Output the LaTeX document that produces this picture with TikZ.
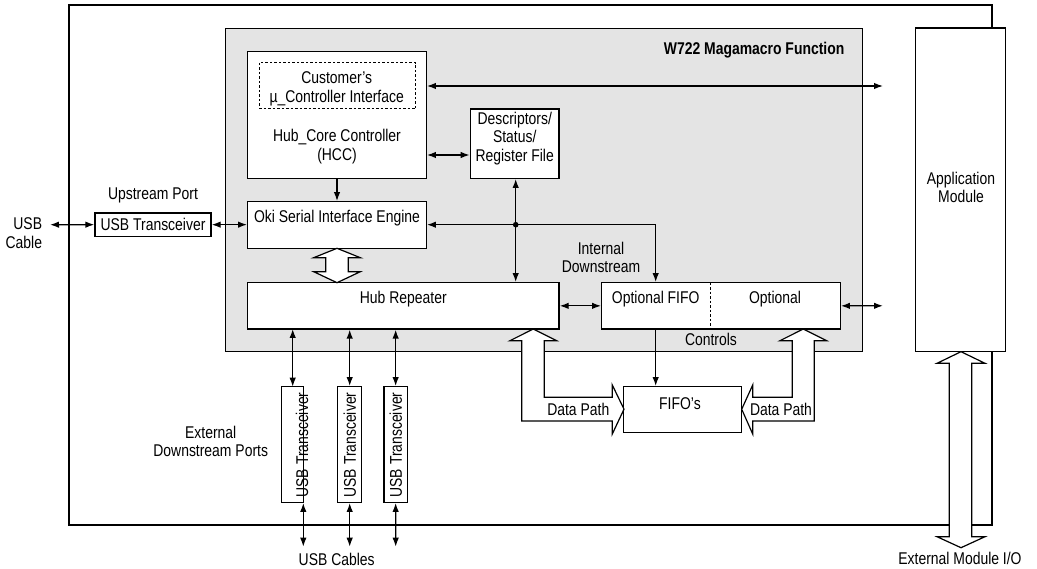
\documentclass[tikz,border=0pt]{standalone}
\usepackage{fontspec}
\setmainfont{Liberation Sans}[FakeStretch=0.82]
\usetikzlibrary{arrows.meta,fit}
\definecolor{panel}{RGB}{228,228,228}
\begin{document}
\begin{tikzpicture}[x=1pt,y=-1pt,
  every node/.style={font=\fontsize{17}{18.5}\selectfont},
  line width=1.3pt,
  blk/.style={draw,fill=white,inner sep=0pt},
  txt/.style={inner sep=0pt,align=center},
  arr/.style={-{Latex[length=9pt,width=6.5pt]}},
  darr/.style={{Latex[length=9pt,width=6.5pt]}-{Latex[length=9pt,width=6.5pt]}},
  fat/.style={draw,fill=white,line width=1.2pt,line join=miter}]
\useasboundingbox (0,0) rectangle (1037,569);
% outer board
\draw (69,5) rectangle (992,525);
% gray macro panel
\node[draw,fill=panel,inner sep=0pt,fit={(225.7,28.3) (862.3,351.7)}] (panel) {};
\node[txt,anchor=east,font=\fontsize{17}{18.5}\selectfont\bfseries] (title) at (845,50) {W722 Magamacro Function};
% application module
\node[blk,fit={(915.7,28) (1005.7,351.7)}] (app) {};
\node[txt] (apptxt) at (961,187.5) {Application\\Module};
% HCC
\node[blk,fit={(247.7,51.7) (426.3,178.3)}] (hcc) {};
\node[draw,inner sep=0pt,line width=1pt,dash pattern=on 2.5pt off 2pt,fit={(259,62.7) (415.7,109)}] (cif) {};
\node[txt] (ciftxt) at (336.7,88.8) {Customer’s\\µ\_Controller Interface};
\node[txt] (hcctxt) at (337,146.7) {Hub\_Core Controller\\(HCC)};
% descriptors
\node[blk,fit={(470.3,109) (559,178.3)}] (desc) {};
\node[txt] (desctxt) at (514.7,138.5) {Descriptors/\\Status/\\Register File};
% Oki SIE
\node[blk,fit={(247.7,201.7) (426.3,248.3)}] (oki) {};
\node[txt] (okitxt) at (337,218.3) {Oki Serial Interface Engine};
% upstream transceiver
\node[blk,fit={(95,213) (211,236.3)}] (usbu) {};
\node[txt] (usbutxt) at (153,224.7) {USB Transceiver};
\node[txt] (upport) at (153,195) {Upstream Port};
\node[txt,align=right,anchor=east] (cable) at (42.7,233) {USB\\Cable};
\coordinate (cableend) at (50,224.7);
% hub repeater
\node[blk,fit={(247.7,282.7) (559,329)}] (hub) {};
\node[txt] (hubtxt) at (403.3,299.3) {Hub Repeater};
% optional FIFO
\node[blk,fit={(601.7,282.7) (840.3,329)}] (opt) {};
\draw[line width=1pt,dash pattern=on 2.5pt off 2pt] (710,282.7) -- (710,329);
\node[txt] (optfifo) at (655.7,299.3) {Optional FIFO};
\node[txt] (opttxt) at (775,299.3) {Optional};
\node[txt] (controls) at (711,339.3) {Controls};
\node[txt] (intds) at (601,257.2) {Internal\\Downstream};
% FIFOs
\node[blk,fit={(623.3,386.7) (741.7,432.7)}] (fifos) {};
\node[txt] (fifostxt) at (680,403.3) {FIFO’s};
% downstream transceivers
\node[blk,fit={(281.7,386.7) (303.7,502.3)}] (t1) {};
\node[blk,fit={(337.7,386.7) (361.7,502.3)}] (t2) {};
\node[blk,fit={(384,386.7) (407.3,502.3)}] (t3) {};
\node[txt,rotate=90] (t1txt) at (302,445) {USB Transceiver};
\node[txt,rotate=90] (t2txt) at (349.7,445) {USB Transceiver};
\node[txt,rotate=90] (t3txt) at (395.7,445) {USB Transceiver};
\node[txt] (extds) at (210.7,441.3) {External\\Downstream Ports};
\node[txt] (usbcables) at (336.7,559) {USB Cables};
\node[txt] (extio) at (960,558.3) {External Module I/O};
% connectors
\coordinate (j) at (515.7,224.7);
\coordinate (appin) at (883,86);
\coordinate (appin2) at (883,305.8);
\draw[darr] (cableend) -- (usbu.west);
\draw[darr] (usbu.east) -- (usbu.east -| oki.west);
\draw[arr] (hcc.south) -- (oki.north);
\draw[darr] (hcc.east |- 0,155) -- (desc.west |- 0,155);
\draw[darr] (hcc.east |- appin) -- (appin);
\draw[darr] (desc.south -| j) -- (hub.north -| j);
\draw[arr] (j) -- (oki.east |- j);
\draw[arr] (j) -| (optfifo |- opt.north);
\fill (j) circle (2.8pt);
\draw[darr] (hub.east) -- (hub.east -| opt.west);
\draw[darr] (opt.east) -- (appin2);
\draw[arr] (optfifo |- opt.south) -- (optfifo |- fifos.north);
\draw[darr] (292.7,329) -- (292.7,386.7);
\draw[darr] (hub.south -| t2) -- (t2.north);
\draw[darr] (hub.south -| t3) -- (t3.north);
\coordinate (c1) at (303.3,546.7);
\coordinate (c2) at (349.7,546.7);
\coordinate (c3) at (395.7,546.7);
\draw[darr] (c1 |- t1.south) -- (c1);
\draw[darr] (t2.south) -- (c2);
\draw[darr] (t3.south) -- (c3);
% fat arrows
\draw[fat] (337,248.3) -- (360.3,257.7) -- (348.2,257.7) -- (348.2,271.7) -- (360.3,271.7) -- (337,282.7)
  -- (313.7,271.7) -- (325.8,271.7) -- (325.8,257.7) -- (313.7,257.7) -- cycle;
\draw[fat] (533.3,329) -- (556.7,340.7) -- (544.3,340.7) -- (544.3,397.3) -- (612.3,397.3) -- (612.3,385)
  -- (624,409.2) -- (612.3,434) -- (612.3,421) -- (521.7,421) -- (521.7,340.7) -- (510,340.7) -- cycle;
\draw[fat] (803.3,329) -- (826.7,340.7) -- (814.3,340.7) -- (814.3,421) -- (752.7,421) -- (752.7,434)
  -- (741.7,409.2) -- (752.7,385) -- (752.7,397.3) -- (792.3,397.3) -- (792.3,340.7) -- (780,340.7) -- cycle;
\draw[fat] (961,351.7) -- (985,363.3) -- (971.7,363.3) -- (971.7,536.7) -- (985,536.7) -- (961,547.7)
  -- (937,536.7) -- (949.3,536.7) -- (949.3,363.3) -- (937,363.3) -- cycle;
\node[txt] (dpl) at (578.3,409.3) {Data Path};
\node[txt] (dpr) at (781,409.3) {Data Path};
\end{tikzpicture}
\end{document}
